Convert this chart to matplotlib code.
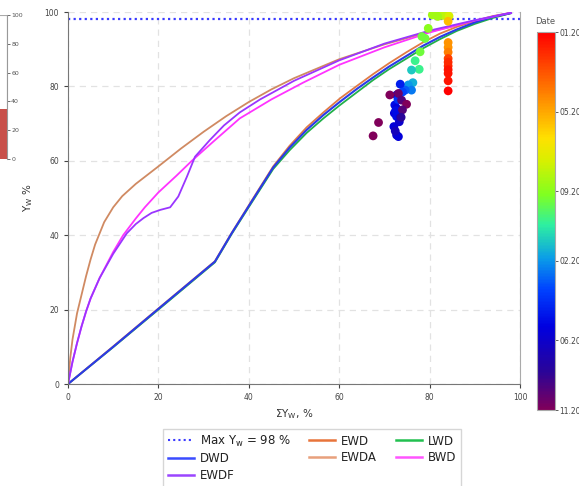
import numpy as np
import matplotlib
matplotlib.use('Agg')
import matplotlib.pyplot as plt
from matplotlib.colors import LinearSegmentedColormap, Normalize
from matplotlib.lines import Line2D

# curves (x = cumulative Yw %, y = Yw %)
dwd_x = [0, 10, 20, 32.5, 36.2, 40.6, 45.4, 49, 52.8, 56.5, 60.2, 64, 67.5, 71, 74.9, 78.5, 82.3, 86, 90, 94, 98]
dwd_y = [0, 10, 20.2, 32.9, 40.5, 49, 58.2, 63.5, 68.3, 72.3, 75.9, 79.4, 82.4, 85.3, 88.2, 90.9, 93.3, 95.3, 97.2, 98.7, 99.7]

ewd_x = [0, 10, 20, 32.5, 36.2, 40.6, 45.4, 49, 52.8, 56.5, 60.2, 64, 67.5, 71, 74.9, 78.5, 82.3, 86, 90, 94, 98]
ewd_y = [0, 10.1, 20.3, 33.0, 40.6, 49.2, 58.5, 64, 69, 73, 76.8, 80.2, 83.3, 86.2, 89.2, 91.8, 94.2, 96, 97.6, 98.9, 99.8]

lwd_x = [0, 10, 20, 32.5, 36.2, 40.6, 45.4, 49, 52.8, 56.5, 60.2, 64, 67.5, 71, 74.9, 78.5, 82.3, 86, 90, 94, 98]
lwd_y = [0, 9.9, 20, 32.7, 40.3, 48.7, 57.8, 62.8, 67.5, 71.4, 75, 78.5, 81.7, 84.6, 87.5, 90.2, 92.7, 94.9, 96.8, 98.4, 99.7]

ewda_x = [0, 0.5, 1, 2, 3, 4, 5, 6, 8, 10, 12, 15, 20, 25, 30, 35, 40, 45, 50, 60, 70, 80, 90, 98]
ewda_y = [0, 7, 12, 19, 24, 29, 33.5, 37.5, 43.5, 47.5, 50.5, 53.8, 58.5, 63.3, 67.8, 72, 75.8, 79.2, 82.2, 87.3, 91.3, 94.7, 97.5, 99.7]

bwd_x = [0, 1, 2, 3, 4, 5, 7, 10, 12.2, 15, 17, 20, 24, 27.4, 32, 38, 45, 52, 60, 70, 80, 90, 98]
bwd_y = [0, 6, 11, 15.5, 19.5, 23, 28.5, 35.5, 40, 44.5, 47.5, 51.5, 56, 60, 65, 71.4, 76.5, 81, 85.8, 90.5, 94.5, 97.7, 99.8]

ewdf_x = [0, 1, 2, 3, 4, 5, 7, 10, 13, 15, 16.7, 18.5, 20.4, 22.6, 24.4, 26.3, 28.1, 31.4, 34.5, 38, 42.5, 50, 60, 70, 80, 90, 98]
ewdf_y = [0, 6, 11, 15.5, 19.5, 23, 28.5, 35, 40.5, 43, 44.6, 46, 46.8, 47.5, 50.4, 55.7, 61.1, 65.6, 69.5, 73, 76.5, 81.5, 87, 91.5, 95, 97.8, 99.8]

max_yw = 98

# measured points: x, y, date (months since 11.2017)
pts_x = [80.6, 81.3, 82.0, 82.8, 83.5, 84.3, 81.8, 84.1,
         84.1, 84.1, 84.1, 84.1, 84.1, 84.1, 84.1, 84.1, 84.1, 84.1,
         79.7, 78.3, 79.0, 77.9, 76.8, 77.7, 76.0, 76.3, 75.3, 76.0, 74.6,
         73.5, 72.7, 72.3, 72.7, 72.2, 72.7, 73.5, 72.1, 72.7, 73.1, 73.0, 72.5, 74.0, 73.3, 72.4,
         71.2, 73.1, 73.8, 74.9, 74.0, 73.7, 68.7, 67.5]
pts_y = [99.2, 99.4, 99.3, 99.1, 99.0, 98.9, 98.8, 97.5,
         91.8, 90.5, 89.2, 87.5, 86.5, 85.5, 84.5, 83.5, 81.5, 78.8,
         95.6, 93.4, 92.9, 89.3, 86.9, 84.6, 84.4, 81.0, 80.4, 79.0, 79.0,
         80.6, 77.7, 75.0, 74.1, 72.8, 71.9, 71.9, 69.2, 66.9, 66.5, 76.5, 73.5, 78.5, 70.5, 68.0,
         77.7, 78.1, 76.3, 75.2, 73.7, 71.7, 70.3, 66.7]
pts_date = [23, 23, 23, 24, 24, 25, 23, 29,
            31, 31, 32, 35, 36, 36, 37, 37, 37, 38,
            22, 21, 21, 21, 19, 19, 17, 16, 15, 14, 13,
            10, 8, 9, 8, 8, 9, 7, 8, 7, 8, 11, 9, 12, 7, 6,
            0, 1, 2, 0, 2, 4, 0, 0]

cbar_ticks = [0, 7, 15, 22, 30, 38]
cbar_labels = ['11.2017', '06.2018', '02.2019', '09.2019', '05.2020', '01.2021']

# remnant of neighbouring chart on the left
side_value = 35

cmap = LinearSegmentedColormap.from_list('date', [
    (0.0, '#80005a'), (0.1, '#2a0498'), (0.22, '#0000e0'), (0.32, '#0044ff'),
    (0.40, '#0a9ce8'), (0.49, '#2ef0a0'), (0.57, '#80ff20'), (0.66, '#d8f000'),
    (0.72, '#ffe000'), (0.80, '#ffa000'), (0.90, '#ff5000'), (1.0, '#ff0000')])
norm = Normalize(0, 38)

fig = plt.figure(figsize=(5.79, 4.86), dpi=100)
ax = fig.add_axes([68/579, 1-384/486, 452/579, 372/486])

ax.axhline(max_yw, color='#3a3aff', lw=1.6, ls=(0, (1, 1.5)))
ax.plot(ewda_x, ewda_y, color='#d08a62', lw=1.3)
ax.plot(lwd_x, lwd_y, color='#22b04a', lw=1.3)
ax.plot(ewd_x, ewd_y, color='#e07a45', lw=1.3)
ax.plot(dwd_x, dwd_y, color='#2a3ae8', lw=1.5)
ax.plot(bwd_x, bwd_y, color='#ff33ff', lw=1.3)
ax.plot(ewdf_x, ewdf_y, color='#9a35ff', lw=1.3)
ax.scatter(pts_x, pts_y, c=pts_date, cmap=cmap, norm=norm, s=40, zorder=5, linewidths=0)

ax.set_xlim(0, 100)
ax.set_ylim(0, 100)
ax.set_xticks([0, 20, 40, 60, 80, 100])
ax.set_yticks([0, 20, 40, 60, 80, 100])
ax.grid(True, color='#e2e2e2', ls=(0, (5, 4)), lw=0.9)
ax.tick_params(labelsize=5.5, colors='#444444', length=3, width=0.8)
for s in ['left', 'bottom']:
    ax.spines[s].set_color('#777777')
ax.spines['right'].set_color('#aaaaaa')
ax.spines['top'].set_visible(False)
ax.set_xlabel('ΣY$_\\mathregular{W}$, %', fontsize=7.5, color='#333333', labelpad=4)
ax.set_ylabel('Y$_\\mathregular{W}$ %', fontsize=7.5, color='#333333', labelpad=7)

# legend
handles = [
    Line2D([], [], color='#3a3aff', lw=1.5, ls=(0, (1, 1.5))),
    Line2D([], [], color='#3a4cff', lw=1.8),
    Line2D([], [], color='#9a45ff', lw=1.8),
    Line2D([], [], color='#e8743b', lw=1.8),
    Line2D([], [], color='#e8a07c', lw=1.8),
    Line2D([], [], color='#22c050', lw=1.8),
    Line2D([], [], color='#ff55ff', lw=1.8),
]
labels = ['Max Y$_\\mathregular{w}$ = 98 %', 'DWD', 'EWDF', 'EWD', 'EWDA', 'LWD', 'BWD']
leg = fig.legend(handles, labels, ncol=3, loc='upper left',
                 bbox_to_anchor=(157/579, 1-423/486), fontsize=8.5,
                 frameon=True, fancybox=False, edgecolor='#cccccc',
                 handlelength=2.2, handletextpad=0.5, columnspacing=1.6,
                 labelspacing=0.3, borderpad=0.4)
for t in leg.get_texts():
    t.set_color('#222222')

# colorbar
cax = fig.add_axes([537/579, 1-410/486, 18/579, 378/486])
cb = fig.colorbar(matplotlib.cm.ScalarMappable(norm=norm, cmap=cmap), cax=cax)
cb.set_ticks(cbar_ticks)
cb.set_ticklabels(cbar_labels)
cb.ax.tick_params(labelsize=5.5, colors='#444444', length=2, width=0.6, pad=1)
cb.outline.set_edgecolor('#aaaaaa')
fig.text(545/579, 1-22/486, 'Date', fontsize=6, color='#555555', ha='center', va='center')

# partial axis from a neighbouring chart
sax = fig.add_axes([-10/579, 1-159/486, 17/579, 144/486])
sax.bar([0.7], [100], width=0.6, color='white', edgecolor='#aaaaaa', lw=0.8)
sax.bar([0.7], [side_value], width=0.6, color='#c8504a')
sax.set_xlim(0, 1)
sax.set_ylim(0, 100)
sax.set_xticks([])
sax.set_yticks([0, 20, 40, 60, 80, 100])
sax.yaxis.tick_right()
sax.tick_params(labelsize=4.5, colors='#555555', length=2, width=0.6, pad=1)
for s in ['left', 'top', 'bottom']:
    sax.spines[s].set_visible(False)
sax.spines['right'].set_color('#999999')

fig.savefig('out.png', dpi=100)
